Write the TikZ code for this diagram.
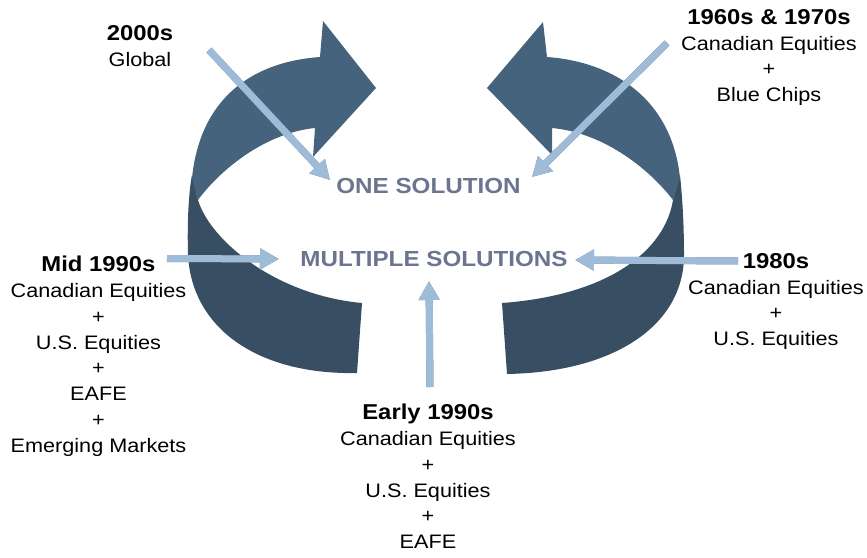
\documentclass[tikz,border=0pt]{standalone}
\usepackage{fontspec}
\setmainfont{Liberation Sans}[FakeStretch=1.11]
\usetikzlibrary{arrows.meta}
\definecolor{bandlight}{HTML}{46637D}
\definecolor{banddark}{HTML}{374E63}
\definecolor{hintfill}{HTML}{9EBBD7}
\definecolor{hintedge}{HTML}{687C92}
\definecolor{centertext}{HTML}{6B7590}
\newcommand\hdfont{\fontsize{21.5}{25.8}\selectfont\bfseries}
\tikzset{
  hintshadow/.style={line width=7pt, draw=hintedge, xshift=-1pt, yshift=-1pt,
    -{Triangle[length=19pt,width=20pt]}},
  hintarrow/.style={line width=7pt, draw=hintfill,
    -{Triangle[length=19pt,width=20pt]}},
  blocktext/.style={align=center, inner sep=0pt, anchor=north,
    font=\fontsize{19.5}{25.8}\selectfont},
  centerlabel/.style={inner sep=0pt, text=centertext,
    font=\fontsize{21.8}{25}\selectfont\bfseries},
}
\begin{document}
\begin{tikzpicture}[x=1pt,y=-1pt]
\useasboundingbox (0,0) rectangle (867,557);

% left ribbon
\fill[banddark] (192,175) -- (198,200) .. controls (210,240) and (275,295) .. (362,303)
  -- (357,373) .. controls (260,375) and (192,330) .. (188,255)
  .. controls (187,220) and (189,190) .. (192,175) -- cycle;
\fill[bandlight] (320,57) -- (323,21) -- (376,88) -- (313,157) -- (315,128)
  .. controls (265,133) and (220,170) .. (198,200) -- (192,178)
  .. controls (200,100) and (250,62) .. (320,57) -- cycle;

% right ribbon
\fill[banddark] (680,175) -- (673,200) .. controls (665,250) and (610,295) .. (502,303)
  -- (507,374) .. controls (615,372) and (684,325) .. (684,255)
  .. controls (684,220) and (682,195) .. (680,175) -- cycle;
\fill[bandlight] (547,57) -- (543,22) -- (487,88) -- (552,155) -- (552,128)
  .. controls (605,133) and (650,170) .. (673,200) -- (680,178)
  .. controls (672,100) and (615,62) .. (547,57) -- cycle;

% centre texts
\node[centerlabel] (one) at (428.5,185.5) {ONE SOLUTION};
\node[centerlabel] (multi) at (434,259) {MULTIPLE SOLUTIONS};

% era blocks
\node[blocktext] (n2000) at (140,25) {{\hdfont 2000s}\\Global};
\node[blocktext] (n1960) at (769,9) {{\hdfont 1960s \& 1970s}\\Canadian Equities\\+\\Blue Chips};
\node[blocktext] (nmid) at (98.5,256) {{\hdfont Mid 1990s}\\Canadian Equities\\+\\U.S. Equities\\+\\EAFE\\+\\Emerging Markets};
\node[blocktext] (n1980) at (776,253) {{\hdfont 1980s}\\Canadian Equities\\+\\U.S. Equities};
\node[blocktext] (nearly) at (428,404) {{\hdfont Early 1990s}\\Canadian Equities\\+\\U.S. Equities\\+\\EAFE};

% arrow end points
\coordinate (t2000) at (209,50);   \coordinate (h2000) at (330,180);
\coordinate (t1960) at (667,43);   \coordinate (h1960) at (532,177);
\coordinate (tmid) at (167,258.5); \coordinate (hmid) at (279,259);
\coordinate (t1980) at (738,261);  \coordinate (h1980) at (575,260);
\coordinate (tearly) at (430,387); \coordinate (hearly) at (429,281);

\foreach \a/\b in {t2000/h2000, t1960/h1960, tmid/hmid, t1980/h1980, tearly/hearly}{
  \draw[hintshadow] (\a) -- (\b);
  \draw[hintarrow] (\a) -- (\b);
}
\end{tikzpicture}
\end{document}
